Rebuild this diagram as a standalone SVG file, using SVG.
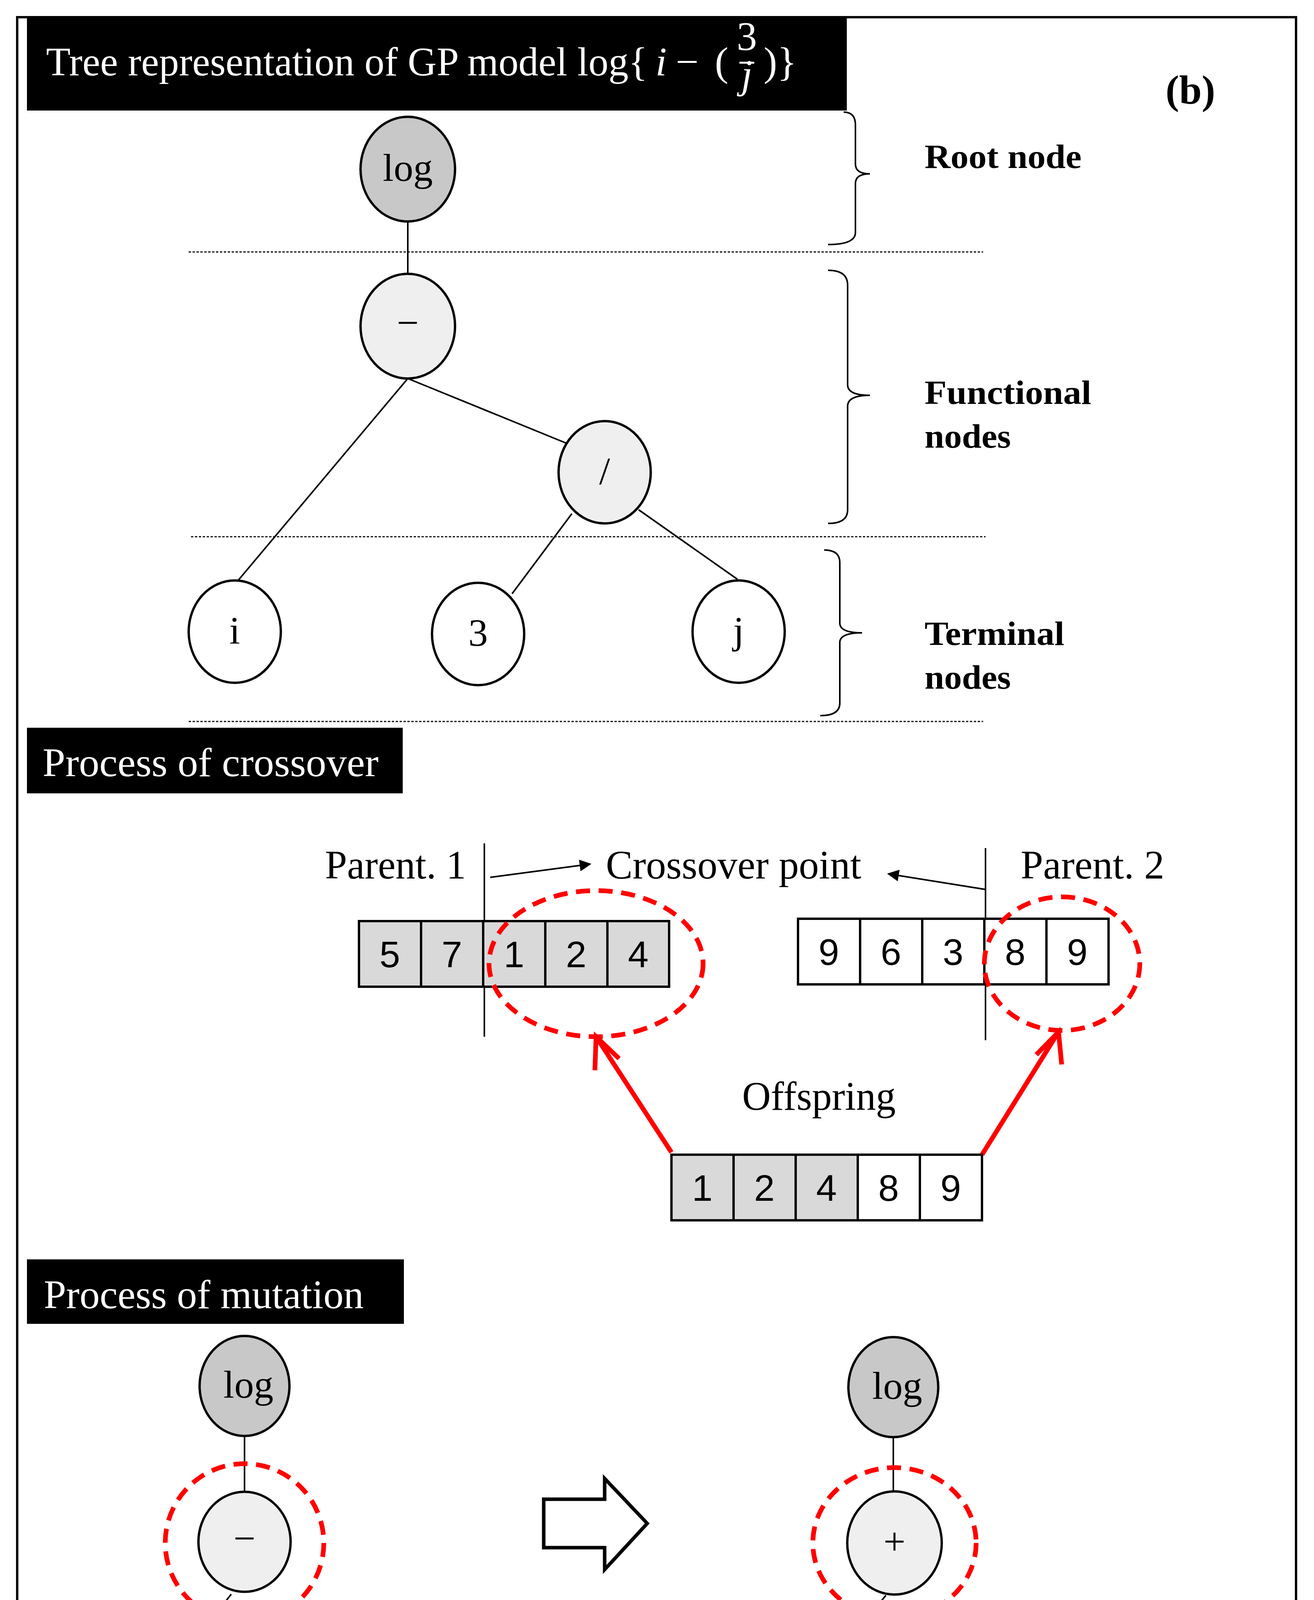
<svg xmlns="http://www.w3.org/2000/svg" width="3364" height="4888" viewBox="0 0 3364 4888">
<style>
.n{stroke:#000;stroke-width:6}
.r{fill:#c8c8c8}.f{fill:#efefef}.t{fill:#fff}
.lb{font-family:"Liberation Serif",serif;font-size:100px;text-anchor:middle}
.e{stroke:#000;stroke-width:4;fill:none}
.d{stroke:#000;stroke-width:3;stroke-dasharray:6 4;fill:none}
.rd{stroke:#f00;stroke-width:12;stroke-dasharray:36 22;fill:none}
.h{font-family:"Liberation Serif",serif;font-size:104px;fill:#fff}
.s{font-family:"Liberation Serif",serif;font-size:104px}
.b{font-family:"Liberation Serif",serif;font-size:86px;font-weight:bold}
.c{stroke:#000;stroke-width:6}
.g{fill:#d9d9d9}
.dg{font-family:"Liberation Sans",sans-serif;font-size:95px;text-anchor:middle}
</style>
<defs>
<marker id="ah" viewBox="0 0 10 10" refX="9" refY="5" markerWidth="36" markerHeight="30" orient="auto" markerUnits="userSpaceOnUse"><path d="M0,0L10,5L0,10z"/></marker>
</defs>
<rect x="0" y="0" width="3364" height="4888" fill="#fff"/>
<rect x="44" y="44" width="3274" height="4822" fill="none" stroke="#000" stroke-width="6"/>
<g id="title">
<rect x="69" y="44" width="2099" height="239" fill="#000"/>
<text class="h" x="118" y="193" textLength="1540" lengthAdjust="spacingAndGlyphs">Tree representation of GP model log{</text>
<text class="h" x="1678" y="193" font-style="italic">i</text>
<text class="h" x="1730" y="193">−</text>
<text class="h" x="1830" y="193">(</text>
<text class="h" x="1912" y="128" font-size="70" text-anchor="middle">3</text>
<rect x="1893" y="158" width="38" height="5" fill="#fff"/>
<text class="h" x="1912" y="225" font-size="70" font-style="italic" text-anchor="middle">j</text>
<text class="h" x="1955" y="193">)}</text>
</g>
<text class="s" x="2984" y="265" font-size="125" font-weight="bold">(b)</text>
<g id="connectors">
<line class="e" x1="1044" y1="567" x2="1044" y2="704"/>
<line class="e" x1="1044" y1="969" x2="607" y2="1489"/>
<line class="e" x1="1044" y1="969" x2="1495" y2="1153"/>
<line class="e" x1="1464" y1="1315" x2="1311" y2="1520"/>
<line class="e" x1="1635" y1="1305" x2="1888" y2="1483"/>
<line class="e" x1="626" y1="3676" x2="626" y2="3819"/>
<line class="e" x1="592" y1="4081" x2="193" y2="4592"/>
<line class="e" x1="716" y1="4118" x2="1019" y2="4324"/>
<line class="e" x1="1050" y1="4417" x2="897" y2="4623"/>
<line class="e" x1="1215" y1="4411" x2="1467" y2="4592"/>
<line class="e" x1="2287" y1="3679" x2="2287" y2="3817"/>
<line class="e" x1="2268" y1="4084" x2="1853" y2="4592"/>
<line class="e" x1="2392" y1="4112" x2="2679" y2="4324"/>
<line class="e" x1="2710" y1="4423" x2="2557" y2="4623"/>
<line class="e" x1="2881" y1="4411" x2="3134" y2="4592"/>
<line class="e" x1="1255" y1="2246" x2="1511" y2="2212" marker-end="url(#ah)"/>
<line class="e" x1="2523" y1="2277" x2="2274" y2="2237" marker-end="url(#ah)"/>
<line stroke="#f00" stroke-width="12" x1="1719" y1="2950" x2="1530" y2="2660"/>
<polyline stroke="#f00" stroke-width="12" fill="none" points="1523,2740 1526,2654 1585,2710"/>
<line stroke="#f00" stroke-width="12" x1="2514" y1="2956" x2="2706" y2="2648"/>
<polyline stroke="#f00" stroke-width="12" fill="none" points="2653,2700 2710,2642 2718,2725"/>
</g>
<line class="d" x1="483" y1="645" x2="2517" y2="645"/>
<line class="d" x1="489" y1="1374" x2="2523" y2="1374"/>
<line class="d" x1="483" y1="1847" x2="2517" y2="1847"/>
<g id="braces" fill="none" stroke="#000" stroke-width="4">
<path d="M2160,287 Q2190,287 2190,320 L2190,420 Q2190,445 2227,445 Q2190,445 2190,470 L2190,595 Q2190,626 2120,626"/>
<path d="M2120,692 Q2170,692 2170,730 L2170,985 Q2170,1012 2227,1012 Q2170,1012 2170,1040 L2170,1305 Q2170,1340 2120,1340"/>
<path d="M2110,1408 Q2150,1408 2150,1440 L2150,1595 Q2150,1620 2207,1620 Q2150,1620 2150,1645 L2150,1800 Q2150,1832 2100,1832"/>
</g>
<text class="b" x="2367" y="430" textLength="402" lengthAdjust="spacingAndGlyphs">Root node</text>
<text class="b" x="2367" y="1034" textLength="427" lengthAdjust="spacingAndGlyphs">Functional</text>
<text class="b" x="2367" y="1146" textLength="221" lengthAdjust="spacingAndGlyphs">nodes</text>
<text class="b" x="2367" y="1651" textLength="358" lengthAdjust="spacingAndGlyphs">Terminal</text>
<text class="b" x="2367" y="1763" textLength="221" lengthAdjust="spacingAndGlyphs">nodes</text>
<g id="n-log"><ellipse class="n r" cx="1044" cy="433" rx="121" ry="134"/><text class="lb" x="1044" y="463">log</text></g>
<g id="n-minus"><ellipse class="n f" cx="1044" cy="835" rx="121" ry="134"/><text class="lb" x="1044" y="860">−</text></g>
<g id="n-div"><ellipse class="n f" cx="1548" cy="1209" rx="118" ry="131"/><text class="lb" x="1548" y="1239">/</text></g>
<g id="n-i"><ellipse class="n t" cx="601" cy="1617" rx="118" ry="131"/><text class="lb" x="601" y="1647">i</text></g>
<g id="n-3"><ellipse class="n t" cx="1224" cy="1623" rx="118" ry="131"/><text class="lb" x="1224" y="1653">3</text></g>
<g id="n-j"><ellipse class="n t" cx="1891" cy="1617" rx="118" ry="131"/><text class="lb" x="1891" y="1647">j</text></g>
<g id="crossover-header"><rect x="69" y="1863" width="962" height="168" fill="#000"/><text class="h" x="109" y="1987" textLength="860" lengthAdjust="spacingAndGlyphs">Process of crossover</text></g>
<text class="s" x="832" y="2249" textLength="361" lengthAdjust="spacingAndGlyphs">Parent. 1</text>
<text class="s" x="1551" y="2249" textLength="654" lengthAdjust="spacingAndGlyphs">Crossover point</text>
<text class="s" x="2613" y="2249" textLength="368" lengthAdjust="spacingAndGlyphs">Parent. 2</text>
<text class="s" x="1900" y="2841" textLength="393" lengthAdjust="spacingAndGlyphs">Offspring</text>
<line class="e" x1="1240" y1="2159" x2="1240" y2="2654"/>
<line class="e" x1="2523" y1="2171" x2="2523" y2="2663"/>
<g id="parent1">
<rect class="c g" x="919" y="2358" width="794" height="168"/>
<line class="c" x1="1078" y1="2358" x2="1078" y2="2526"/><line class="c" x1="1237" y1="2358" x2="1237" y2="2526"/><line class="c" x1="1396" y1="2358" x2="1396" y2="2526"/><line class="c" x1="1555" y1="2358" x2="1555" y2="2526"/>
<text class="dg" x="998" y="2476">5</text><text class="dg" x="1157" y="2476">7</text><text class="dg" x="1316" y="2476">1</text><text class="dg" x="1475" y="2476">2</text><text class="dg" x="1634" y="2476">4</text>
</g>
<g id="parent2">
<rect class="c t" x="2043" y="2352" width="795" height="168"/>
<line class="c" x1="2202" y1="2352" x2="2202" y2="2520"/><line class="c" x1="2361" y1="2352" x2="2361" y2="2520"/><line class="c" x1="2520" y1="2352" x2="2520" y2="2520"/><line class="c" x1="2679" y1="2352" x2="2679" y2="2520"/>
<text class="dg" x="2122" y="2470">9</text><text class="dg" x="2281" y="2470">6</text><text class="dg" x="2440" y="2470">3</text><text class="dg" x="2599" y="2470">8</text><text class="dg" x="2758" y="2470">9</text>
</g>
<g id="offspring">
<rect class="g" x="1719" y="2956" width="477" height="168"/>
<rect class="c" fill="none" x="1719" y="2956" width="795" height="168"/>
<line class="c" x1="1878" y1="2956" x2="1878" y2="3124"/><line class="c" x1="2037" y1="2956" x2="2037" y2="3124"/><line class="c" x1="2196" y1="2956" x2="2196" y2="3124"/><line class="c" x1="2355" y1="2956" x2="2355" y2="3124"/>
<text class="dg" x="1798" y="3074">1</text><text class="dg" x="1957" y="3074">2</text><text class="dg" x="2116" y="3074">4</text><text class="dg" x="2275" y="3074">8</text><text class="dg" x="2434" y="3074">9</text>
</g>
<ellipse class="rd" cx="1526" cy="2467" rx="274" ry="187"/>
<ellipse class="rd" cx="2719" cy="2467" rx="199" ry="171"/>
<g id="mutation-header"><rect x="69" y="3224" width="965" height="165" fill="#000"/><text class="h" x="112" y="3349" textLength="819" lengthAdjust="spacingAndGlyphs">Process of mutation</text></g>
<g id="m1-log"><ellipse class="n r" cx="626" cy="3548" rx="115" ry="128"/><text class="lb" x="636" y="3578">log</text></g>
<g id="m1-minus"><ellipse class="n f" cx="626" cy="3947" rx="118" ry="128"/><text class="lb" x="626" y="3972">−</text></g>
<g id="m1-div"><ellipse class="n f" cx="1134" cy="4320" rx="118" ry="131"/><text class="lb" x="1134" y="4350">/</text></g>
<g id="m1-i"><ellipse class="n t" cx="187" cy="4725" rx="118" ry="134"/><text class="lb" x="187" y="4755">i</text></g>
<g id="m1-3"><ellipse class="n t" cx="807" cy="4735" rx="118" ry="134"/><text class="lb" x="807" y="4765">3</text></g>
<g id="m1-j"><ellipse class="n t" cx="1477" cy="4725" rx="118" ry="134"/><text class="lb" x="1477" y="4755">j</text></g>
<ellipse class="rd" cx="626" cy="3950" rx="203" ry="203"/>
<g id="arrow"><path d="M1392,3838 L1548,3838 L1548,3785 L1657,3900 L1548,4018 L1548,3962 L1392,3962 Z" fill="#fff" stroke="#000" stroke-width="9"/></g>
<g id="m2-log"><ellipse class="n r" cx="2287" cy="3551" rx="115" ry="128"/><text class="lb" x="2297" y="3581">log</text></g>
<g id="m2-plus"><ellipse class="n f" cx="2290" cy="3950" rx="121" ry="132"/><text class="lb" x="2290" y="3980">+</text></g>
<g id="m2-div"><ellipse class="n f" cx="2794" cy="4320" rx="118" ry="131"/><text class="lb" x="2794" y="4350">/</text></g>
<g id="m2-i"><ellipse class="n t" cx="1847" cy="4725" rx="118" ry="134"/><text class="lb" x="1847" y="4755">i</text></g>
<g id="m2-3"><ellipse class="n t" cx="2467" cy="4741" rx="118" ry="134"/><text class="lb" x="2467" y="4771">3</text></g>
<g id="m2-j"><ellipse class="n t" cx="3165" cy="4725" rx="118" ry="134"/><text class="lb" x="3165" y="4755">j</text></g>
<ellipse class="rd" cx="2290" cy="3950" rx="209" ry="193"/>
</svg>
